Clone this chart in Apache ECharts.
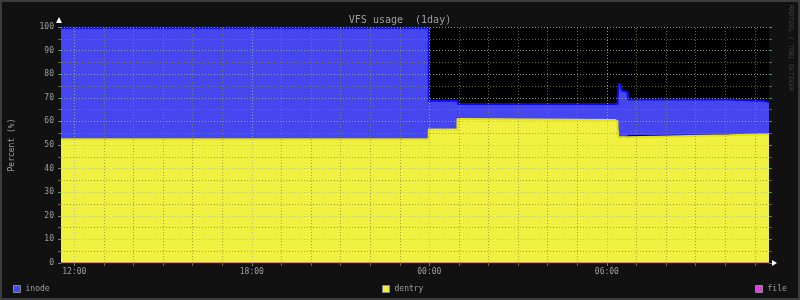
<!DOCTYPE html>
<html><head><meta charset="utf-8">
<script src="https://cdn.jsdelivr.net/npm/echarts@6/dist/echarts.min.js"></script>
<style>html,body{margin:0;padding:0;background:#111;}#c{width:800px;height:300px;}</style>
</head><body><div id="c"></div>
<script>
// time in hours (24 = 00:00 next day)
const times  = [11.55, 23.98, 24.95, 24.97, 25.23, 30.28, 30.36, 30.38, 30.40, 30.42, 30.48, 30.52, 30.56, 30.70, 30.72, 34.13, 34.17, 35.25, 35.48];
const dentry = [52.4, 56.6, 61.0, 61.0, 60.6, 60.0, 57.0, 55.0, 53.3, 53.3, 53.3, 53.3, 53.3, 54.1, 54.1, 54.1, 54.6, 54.6, 54.6];
const inode  = [47.3, 12.2, 7.8, 6.4, 6.8, 7.4, 13.0, 18.0, 22.7, 22.2, 20.7, 19.7, 19.2, 18.4, 15.2, 14.7, 14.2, 13.6, 13.6];
const file   = [0, 0, 0, 0, 0, 0, 0, 0, 0, 0, 0, 0, 0, 0, 0, 0, 0, 0, 0];
const hourTicks = [12,13,14,15,16,17,18,19,20,21,22,23,24,25,26,27,28,29,30,31,32,33,34,35];
const labelHours = [12, 18, 24, 30];
const labelTexts = ['12:00', '18:00', '00:00', '06:00'];
const yTickValues = [5,10,15,20,25,30,35,40,45,50,55,60,65,70,75,80,85,90,95,100];

const BASE = Date.UTC(2024, 0, 1);
const ts = h => BASE + Math.round(h * 3600000);

const FONT = 'DejaVu Sans Mono';
const TXT = '#9e9e9e';
const MAJOR = 'rgba(165,185,165,0.8)';
const MINOR = 'rgba(140,140,50,0.75)';

const pairs = arr => times.map((t, i) => [ts(t), arr[i]]);

const gridLines = [];
yTickValues.forEach(v => gridLines.push({yAxis: v, lineStyle: {color: v % 10 === 0 ? MAJOR : MINOR, type: [1, 2], width: 1}}));
hourTicks.forEach(h => gridLines.push({xAxis: ts(h), lineStyle: {color: labelHours.includes(h) ? MAJOR : MINOR, type: [1, 2], width: 1}}));

const legendCommon = {
  orient: 'horizontal', itemWidth: 7, itemHeight: 7, itemGap: 0, padding: 0, selectedMode: false,
  textStyle: {color: TXT, fontFamily: FONT, fontSize: 8}
};

const hMin = times[0], hMax = times[times.length - 1];

const chart = echarts.init(document.getElementById('c'), null, {renderer: 'canvas'});
chart.setOption({
  animation: false,
  backgroundColor: '#111111',
  title: {text: 'VFS usage  (1day)', left: 'center', top: 10,
    textStyle: {color: TXT, fontFamily: FONT, fontSize: 10, fontWeight: 'normal'}},
  grid: {left: 59, right: 31, top: 27, bottom: 37, show: true, backgroundColor: '#000', borderWidth: 0},
  legend: [
    Object.assign({left: 13, top: 285, data: [{name: 'inode', icon: 'rect', itemStyle: {color: '#4848f0', borderColor: '#888', borderWidth: 1}}]}, legendCommon),
    Object.assign({left: 382, top: 285, data: [{name: 'dentry', icon: 'rect', itemStyle: {color: '#f0f040', borderColor: '#888', borderWidth: 1}}]}, legendCommon),
    Object.assign({left: 755, top: 285, data: [{name: 'file', icon: 'rect', itemStyle: {color: '#e040e0', borderColor: '#888', borderWidth: 1}}]}, legendCommon)
  ],
  xAxis: [
    {type: 'time', position: 'bottom', min: ts(hMin), max: ts(hMax), show: false},
    {type: 'value', position: 'bottom', min: hMin, max: hMax,
      axisLine: {show: false}, splitLine: {show: false},
      axisTick: {show: true, length: 3, customValues: hourTicks, lineStyle: {color: '#6a6a28'}},
      axisLabel: {show: true, customValues: labelHours, margin: 5, color: TXT, fontFamily: FONT, fontSize: 8,
        formatter: v => labelTexts[labelHours.indexOf(Math.round(v))] || ''}},
    {type: 'value', position: 'bottom', min: hMin, max: hMax,
      axisLine: {show: false}, splitLine: {show: false},
      axisTick: {show: true, length: 3, customValues: labelHours, lineStyle: {color: '#4c9a4c'}},
      axisLabel: {show: false}}
  ],
  yAxis: [
    {type: 'value', min: 0, max: 100, interval: 10, position: 'left',
      name: 'Percent (%)', nameLocation: 'middle', nameGap: 45, nameRotate: 90,
      nameTextStyle: {color: TXT, fontFamily: FONT, fontSize: 8},
      axisLine: {show: false}, splitLine: {show: false},
      axisTick: {show: true, length: 3, lineStyle: {color: '#4c9a4c'}},
      minorTick: {show: true, splitNumber: 2, length: 3, lineStyle: {color: '#6a6a28'}},
      axisLabel: {margin: 7, color: TXT, fontFamily: FONT, fontSize: 8}},
    {type: 'value', min: 0, max: 100, interval: 10, position: 'right',
      axisLine: {show: false}, splitLine: {show: false},
      axisTick: {show: true, length: 3, lineStyle: {color: '#4c9a4c'}},
      minorTick: {show: true, splitNumber: 2, length: 3, lineStyle: {color: '#6a6a28'}},
      axisLabel: {show: false}}
  ],
  series: [
    {name: 'file', type: 'line', stack: 'vfs', step: 'end', data: pairs(file), symbol: 'none', z: 10,
      xAxisIndex: 0, yAxisIndex: 0,
      itemStyle: {color: '#e040e0'}, lineStyle: {color: '#a82cb8', width: 1},
      markLine: {silent: true, symbol: 'none', label: {show: false}, z: 10, data: gridLines}},
    {name: 'dentry', type: 'line', stack: 'vfs', step: 'end', data: pairs(dentry), symbol: 'none', z: 3,
      xAxisIndex: 0, yAxisIndex: 0,
      itemStyle: {color: '#f0f040'}, lineStyle: {color: '#e2e212', width: 2},
      areaStyle: {color: '#f0f040', opacity: 1}},
    {name: 'inode', type: 'line', stack: 'vfs', step: 'end', data: pairs(inode), symbol: 'none', z: 2,
      xAxisIndex: 0, yAxisIndex: 0,
      itemStyle: {color: '#4848f0'}, lineStyle: {color: '#0a0af8', width: 2},
      areaStyle: {color: '#4646ee', opacity: 1}}
  ],
  graphic: [
    {type: 'rect', shape: {x: 1, y: 1, width: 798, height: 298}, style: {fill: 'none', stroke: '#3c3c3c', lineWidth: 2}, silent: true},
    {type: 'polygon', shape: {points: [[56, 23], [62, 23], [59, 17]]}, style: {fill: '#ffffff'}, silent: true},
    {type: 'polygon', shape: {points: [[772, 260], [772, 266], [777, 263]]}, style: {fill: '#ffffff'}, silent: true},
    {type: 'text', x: 791, y: 5, rotation: -Math.PI / 2, silent: true,
      style: {text: 'RRDTOOL / TOBI OETIKER', fill: '#444444', font: '6.5px "DejaVu Sans Mono"', textAlign: 'left', textVerticalAlign: 'middle'}}
  ]
});
</script></body></html>
